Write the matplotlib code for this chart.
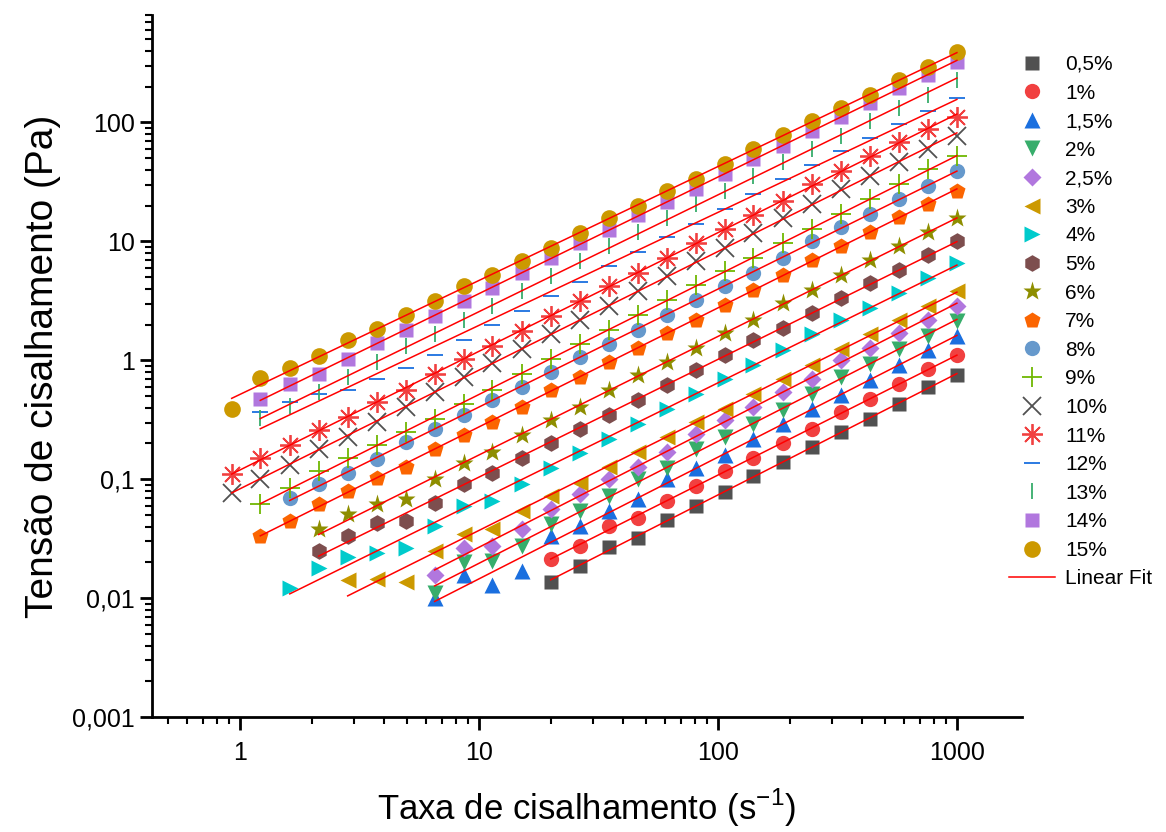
import matplotlib

matplotlib.use("Agg")
import matplotlib.pyplot as plt
import numpy as np
from matplotlib.ticker import LogLocator, NullFormatter

plt.rcParams["font.family"] = ["Liberation Sans", "DejaVu Sans"]

# taxa de cisalhamento (s-1)
taxa = [0.926, 1.22, 1.62, 2.14, 2.83, 3.74, 4.95, 6.54, 8.65, 11.4, 15.1, 20.0, 26.4,
        34.9, 46.2, 61.1, 80.8, 107, 141, 187, 247, 326, 432, 571, 755, 1000]

# tensão de cisalhamento (Pa) por concentração; cada série termina em 1000 s-1
y_05 = [0.0136, 0.0188, 0.0271, 0.0322, 0.0455, 0.0596, 0.078, 0.106, 0.141, 0.188,
        0.251, 0.322, 0.43, 0.596, 0.75]
y_1 = [0.0215, 0.0277, 0.0406, 0.047, 0.0656, 0.0875, 0.117, 0.15, 0.2, 0.266, 0.369,
       0.473, 0.63, 0.84, 1.1]
y_15 = [0.01, 0.0156, 0.0128, 0.0171, 0.0335, 0.0406, 0.054, 0.068, 0.1, 0.124, 0.161,
        0.22, 0.293, 0.39, 0.51, 0.68, 0.91, 1.21, 1.61]
y_2 = [0.011, 0.02, 0.0207, 0.0277, 0.042, 0.054, 0.072, 0.1, 0.124, 0.178, 0.228,
       0.293, 0.383, 0.52, 0.72, 0.93, 1.24, 1.61, 2.15]
y_25 = [0.0156, 0.0266, 0.0277, 0.0383, 0.056, 0.075, 0.1, 0.128, 0.171, 0.242, 0.316,
        0.405, 0.54, 0.695, 1.0, 1.28, 1.71, 2.2, 2.87]
y_3 = [0.0141, 0.0144, 0.0136, 0.0251, 0.0348, 0.0383, 0.054, 0.072, 0.093, 0.128,
       0.171, 0.228, 0.304, 0.39, 0.52, 0.695, 0.91, 1.24, 1.65, 2.2, 2.87, 3.83]
y_4 = [0.0121, 0.0178, 0.022, 0.024, 0.0266, 0.0406, 0.0596, 0.0656, 0.091, 0.124,
       0.165, 0.22, 0.293, 0.39, 0.52, 0.695, 0.91, 1.21, 1.65, 2.2, 2.77, 3.69, 4.92, 6.56]
y_5 = [0.025, 0.0335, 0.043, 0.045, 0.063, 0.091, 0.112, 0.15, 0.2, 0.266, 0.348, 0.46,
       0.62, 0.83, 1.1, 1.47, 1.88, 2.51, 3.35, 4.47, 5.73, 7.64, 10.0]
y_6 = [0.038, 0.051, 0.062, 0.068, 0.1, 0.136, 0.171, 0.237, 0.316, 0.405, 0.56, 0.75,
       0.96, 1.28, 1.71, 2.2, 3.04, 3.91, 5.21, 6.95, 9.1, 12.1, 15.6]
y_7 = [0.0335, 0.045, 0.062, 0.079, 0.102, 0.128, 0.178, 0.237, 0.304, 0.405, 0.56, 0.72,
       0.96, 1.28, 1.71, 2.2, 2.93, 3.91, 5.21, 6.95, 9.1, 12.1, 16.1, 20.7, 26.6]
y_8 = [0.069, 0.091, 0.112, 0.147, 0.207, 0.266, 0.348, 0.46, 0.6, 0.79, 1.06, 1.36,
       1.81, 2.42, 3.22, 4.22, 5.41, 7.2, 10.0, 13.3, 17.1, 22.8, 29.3, 39.1]
y_9 = [0.062, 0.084, 0.117, 0.15, 0.196, 0.25, 0.32, 0.43, 0.56, 0.76, 1.02, 1.36, 1.81,
       2.42, 3.22, 4.3, 5.6, 7.2, 9.6, 12.8, 17.1, 22.8, 30.4, 40.6, 52.1]
y_10 = [0.076, 0.10, 0.133, 0.181, 0.228, 0.304, 0.405, 0.54, 0.72, 0.95, 1.24, 1.65,
        2.2, 2.87, 3.83, 5.1, 6.8, 8.75, 11.7, 15.6, 20.7, 27.7, 35.5, 46.4, 59.6, 76.4]
y_11 = [0.11, 0.15, 0.196, 0.26, 0.335, 0.447, 0.56, 0.76, 1.02, 1.33, 1.78, 2.37, 3.16,
        4.2, 5.4, 7.2, 9.6, 12.8, 16.5, 22.0, 30.4, 39.1, 52.1, 68.1, 87.5, 112]
y_12 = [0.37, 0.45, 0.52, 0.56, 0.70, 0.87, 1.10, 1.47, 2.0, 2.61, 3.48, 4.55, 6.2, 8.1,
        10.8, 14.1, 18.8, 25.1, 33.5, 44.0, 57.3, 73.6, 96.2, 124, 161]
y_13 = [0.33, 0.41, 0.54, 0.72, 0.96, 1.33, 1.65, 2.2, 2.87, 3.83, 5.1, 6.8, 9.1, 12.1,
        15.6, 20.7, 26.6, 35.5, 46.4, 59.6, 76.4, 102, 133, 171, 228]
y_14 = [0.47, 0.63, 0.76, 1.02, 1.41, 1.81, 2.37, 3.16, 4.06, 5.41, 7.21, 9.62, 12.4,
        16.5, 21.5, 27.7, 36.9, 49.2, 63.1, 84.1, 112, 147, 196, 251, 322]
y_15c = [0.39, 0.71, 0.87, 1.08, 1.47, 1.82, 2.40, 3.16, 4.22, 5.21, 6.81, 8.75, 11.7,
         15.6, 20.0, 26.6, 33.5, 44.7, 59.6, 78.0, 102, 133, 171, 228, 293, 391]

rotulos = ["0,5%", "1%", "1,5%", "2%", "2,5%", "3%", "4%", "5%", "6%", "7%", "8%", "9%",
           "10%", "11%", "12%", "13%", "14%", "15%"]
series = [y_05, y_1, y_15, y_2, y_25, y_3, y_4, y_5, y_6, y_7, y_8, y_9, y_10, y_11,
          y_12, y_13, y_14, y_15c]

y_ticks = [0.001, 0.01, 0.1, 1, 10, 100]
y_ticklabels = ["0,001", "0,01", "0,1", "1", "10", "100"]
x_ticks = [1, 10, 100, 1000]
x_ticklabels = ["1", "10", "100", "1000"]

# estilo tipo Origin
cores = ["#515151", "#F14040", "#1A6FDF", "#37AD6B", "#B177DE", "#CC9900", "#00CBCC",
         "#7D4E4E", "#8E8E00", "#FB6501", "#6699CC", "#6FB802", "#515151", "#F14040",
         "#1A6FDF", "#37AD6B", "#B177DE", "#CC9900"]
marcadores = ["s", "o", "^", "v", "D", "<", ">", "h", "*", "p", "o", "+", "x", (8, 2, 0),
              "_", "|", "s", "o"]
tamanhos = [10, 11, 11, 11, 9, 11, 11, 12, 14, 12, 11, 14, 13, 15, 12, 12, 10, 12]

fig = plt.figure(figsize=(11.66, 8.32), dpi=100)
ax = fig.add_axes([0.1304, 0.138, 0.746, 0.844])

handles = []
for ys, lab, c, m, ms in zip(series, rotulos, cores, marcadores, tamanhos):
    xs = taxa[-len(ys):]
    linha = m in ("+", "x", "_", "|") or isinstance(m, tuple)
    if linha:
        h, = ax.plot(xs, ys, ls="none", marker=m, ms=ms, mec=c, mfc=c, mew=1.3, label=lab)
    else:
        h, = ax.plot(xs, ys, ls="none", marker=m, ms=ms, mec="none", mfc=c, label=lab)
    handles.append(h)

# ajuste linear em escala log-log
for ys in series:
    xs = np.array(taxa[-len(ys):])
    b, a = np.polyfit(np.log10(xs), np.log10(ys), 1)
    xf = np.array([xs[0], xs[-1]])
    fit, = ax.plot(xf, 10 ** (a + b * np.log10(xf)), color="#FF0000", lw=1.1, zorder=5)
handles.append(fit)

ax.set_xscale("log")
ax.set_yscale("log")
ax.set_xlim(0.43, 1870)
ax.set_ylim(0.001, 800)

ax.set_xticks(x_ticks)
ax.set_xticklabels(x_ticklabels)
ax.set_yticks(y_ticks)
ax.set_yticklabels(y_ticklabels)
ax.xaxis.set_minor_locator(LogLocator(base=10, subs=np.arange(2, 10), numticks=20))
ax.yaxis.set_minor_locator(LogLocator(base=10, subs=np.arange(2, 10), numticks=20))
ax.xaxis.set_minor_formatter(NullFormatter())
ax.yaxis.set_minor_formatter(NullFormatter())

ax.spines["top"].set_visible(False)
ax.spines["right"].set_visible(False)
for s in ("left", "bottom"):
    ax.spines[s].set_linewidth(2)
ax.tick_params(which="major", direction="out", length=9, width=2, labelsize=18)
ax.tick_params(which="minor", direction="out", length=5, width=1.5)
ax.tick_params(axis="x", pad=8)

ax.set_xlabel("Taxa de cisalhamento (s$^{\\mathregular{-1}}$)", fontsize=25, labelpad=16)
ax.set_ylabel("Tensão de cisalhamento (Pa)", fontsize=28, labelpad=8)

fig.legend(handles, rotulos + ["Linear Fit"], loc="upper left",
           bbox_to_anchor=(0.858, 0.944), frameon=False, fontsize=15,
           labelspacing=0.46, handlelength=2.2, handletextpad=0.5, borderaxespad=0)

fig.savefig("out.png", dpi=100)
